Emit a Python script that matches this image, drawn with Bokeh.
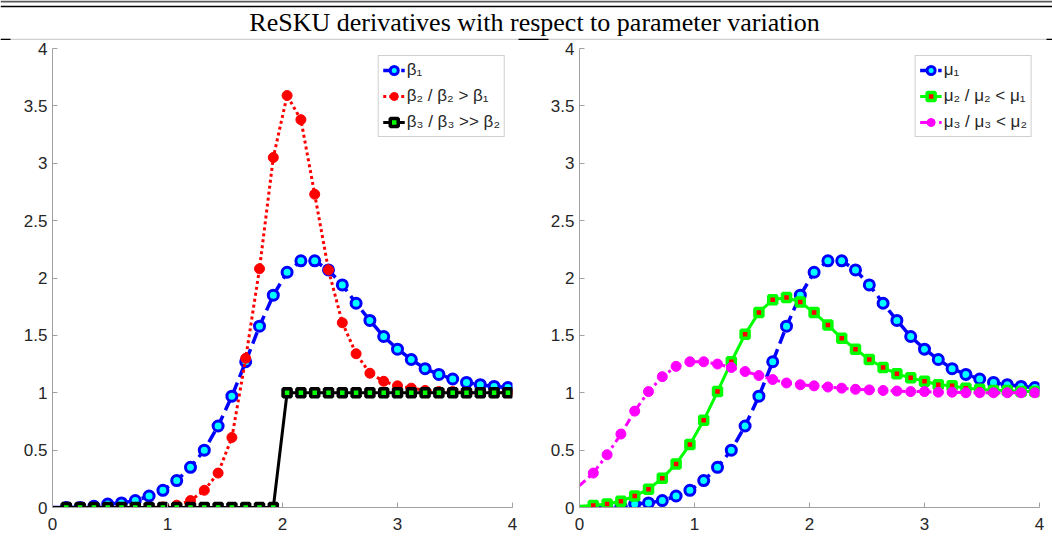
from bokeh.plotting import figure
from bokeh.models import (Range1d, Legend, LegendItem, ColumnDataSource, CDSView,
                          IndexFilter, FixedTicker, Div)
from bokeh.layouts import column, row
from bokeh.core.properties import value
from bokeh.embed import file_html
from bokeh.resources import INLINE

TITLE = "ReSKU derivatives with respect to parameter variation"

X = [0, 0.12, 0.24, 0.36, 0.48, 0.6, 0.72, 0.84, 0.96, 1.08, 1.2, 1.32, 1.44, 1.56, 1.68,
     1.8, 1.92, 2.04, 2.16, 2.28, 2.4, 2.52, 2.64, 2.76, 2.88, 3.0, 3.12, 3.24, 3.36,
     3.48, 3.6, 3.72, 3.84, 3.96]

BETA1 = [0, 0.0, 0.0, 0.01, 0.03, 0.04, 0.06, 0.10, 0.15, 0.235, 0.35, 0.50, 0.71, 0.97,
         1.27, 1.58, 1.85, 2.05, 2.15, 2.15, 2.07, 1.94, 1.78, 1.63, 1.49, 1.38, 1.29,
         1.21, 1.16, 1.12, 1.09, 1.07, 1.055, 1.045]
BETA2 = [0, 0, 0, 0, 0, 0, 0, 0, 0.005, 0.02, 0.06, 0.15, 0.30, 0.61, 1.30, 2.08, 3.05,
         3.59, 3.38, 2.73, 2.07, 1.61, 1.34, 1.17, 1.10, 1.06, 1.04, 1.02, 1.01, 1.01,
         1.0, 1.0, 1.0, 1.0]
BETA3 = [0, 0, 0, 0, 0, 0, 0, 0, 0, 0, 0, 0, 0, 0, 0, 0, 0,
         1, 1, 1, 1, 1, 1, 1, 1, 1, 1, 1, 1, 1, 1, 1, 1, 1]

MU1 = [0, 0.0, 0.0, 0.01, 0.03, 0.04, 0.06, 0.10, 0.15, 0.235, 0.35, 0.50, 0.71, 0.97,
       1.27, 1.58, 1.85, 2.05, 2.15, 2.15, 2.07, 1.94, 1.78, 1.63, 1.49, 1.38, 1.29,
       1.21, 1.16, 1.12, 1.09, 1.07, 1.055, 1.045]
MU2 = [0.01, 0.017, 0.03, 0.055, 0.10, 0.16, 0.255, 0.38, 0.55, 0.76, 1.01, 1.27, 1.51,
       1.70, 1.81, 1.83, 1.79, 1.70, 1.59, 1.475, 1.38, 1.29, 1.22, 1.165, 1.13, 1.10,
       1.07, 1.06, 1.04, 1.03, 1.02, 1.02, 1.01, 1.01]
MU3 = [0.19, 0.30, 0.46, 0.64, 0.84, 1.01, 1.14, 1.23, 1.27, 1.27, 1.25, 1.22, 1.185,
       1.15, 1.115, 1.085, 1.07, 1.06, 1.05, 1.04, 1.03, 1.025, 1.02, 1.015, 1.01, 1.01,
       1.005, 1.005, 1.0, 1.0, 1.0, 1.0, 1.0, 1.0]

LEFT_LABELS = ["β₁", "β₂ / β₂ > β₁", "β₃ / β₃ >> β₂"]
RIGHT_LABELS = ["μ₁", "μ₂ / μ₂ < μ₁", "μ₃ / μ₃ < μ₂"]

XTICKS = [0, 1, 2, 3, 4]
XTICK_LABELS = ["0", "1", "2", "3", "4"]
YTICKS = [0, 0.5, 1, 1.5, 2, 2.5, 3, 3.5, 4]
YTICK_LABELS = ["0", "0.5", "1", "1.5", "2", "2.5", "3", "3.5", "4"]

AX_COLOR = "#a0a0a0"
TXT_COLOR = "#262626"
FONT = "Liberation Sans"

# styles: (line_color, line_width, line_dash, marker, size, m_line_color, m_line_width, fill)
BLUE = ("#0000ff", 3.5, "12 6", "circle", 10, "#0000ff", 3, "#00ffff")
RED = ("#ff0000", 3, "3 3", "circle", 10, "#ff0000", 1, "#ff0000")
BLACK = ("#000000", 3, "solid", "square", 8, "#000000", 3.5, "#00ff00")
GREEN = ("#00ff00", 3, "solid", "square", 8, "#00ff00", 3.5, "#ff0000")
MAGENTA = ("#ff00ff", 3, "8 4 3 4", "circle", 10, "#ff00ff", 1, "#ff00ff")


def make_panel(series, labels, mb_left, mb_right):
    p = figure(width=526, height=499, x_range=Range1d(0, 4), y_range=Range1d(0, 4),
               output_backend="svg", toolbar_location=None,
               min_border_left=mb_left, min_border_right=mb_right,
               min_border_top=8, min_border_bottom=32)
    p.xgrid.visible = False
    p.ygrid.visible = False
    p.outline_line_color = None
    p.background_fill_color = "white"
    p.border_fill_color = "white"
    for ax, ticks, labs in ((p.xaxis[0], XTICKS, XTICK_LABELS),
                            (p.yaxis[0], YTICKS, YTICK_LABELS)):
        ax.ticker = FixedTicker(ticks=ticks)
        ax.major_label_overrides = {t: l for t, l in zip(ticks, labs)}
        ax.axis_line_color = AX_COLOR
        ax.axis_line_width = 1
        ax.major_tick_line_color = AX_COLOR
        ax.major_tick_in = 5
        ax.major_tick_out = 0
        ax.minor_tick_line_color = None
        ax.major_label_text_font = FONT
        ax.major_label_text_font_size = "17px"
        ax.major_label_text_color = TXT_COLOR
    p.xaxis[0].major_label_standoff = 10
    p.yaxis[0].major_label_standoff = 5

    items = []
    for (ys, st), lab in zip(series, labels):
        src = ColumnDataSource(dict(x=X, y=ys))
        lc, lw, dash, marker, size, mlc, mlw, fill = st
        lr = p.line("x", "y", source=src, line_color=lc, line_width=lw, line_dash=dash)
        view = CDSView(filter=IndexFilter(list(range(1, len(X)))))
        sr = p.scatter("x", "y", source=src, view=view, marker=marker, size=size,
                       line_color=mlc, line_width=mlw, fill_color=fill)
        items.append(LegendItem(label=lab, renderers=[lr, sr]))
    leg = Legend(items=items, location="top_right", margin=7, padding=4, spacing=6,
                 glyph_width=22, glyph_height=20, label_standoff=2, label_height=20,
                 label_text_font=FONT, label_text_font_size="17px",
                 label_text_color=TXT_COLOR, border_line_color=AX_COLOR,
                 border_line_width=1, background_fill_color="white",
                 background_fill_alpha=1.0)
    p.add_layout(leg)
    return p


left = make_panel([(BETA1, BLUE), (BETA2, RED), (BETA3, BLACK)], LEFT_LABELS, 52, 14)
right = make_panel([(MU1, BLUE), (MU2, GREEN), (MU3, MAGENTA)], RIGHT_LABELS, 53, 13)

# header with the title and document rules
h = figure(width=1052, height=40, x_range=Range1d(0, 1052), y_range=Range1d(40, 0),
           output_backend="svg", toolbar_location=None, min_border=0)
h.xaxis.visible = False
h.yaxis.visible = False
h.xgrid.visible = False
h.ygrid.visible = False
h.outline_line_color = None
h.segment(x0=[0], y0=[1], x1=[1052], y1=[1], line_color="#5a5a5a", line_width=2)
h.segment(x0=[0], y0=[6], x1=[1052], y1=[6], line_color="#000000", line_width=1.5)
h.segment(x0=[0], y0=[39], x1=[1052], y1=[39], line_color="#d0d0d0", line_width=1.5)
h.segment(x0=[0, 518, 1046], y0=[39, 39, 39], x1=[10, 548, 1052], y1=[39, 39, 39],
          line_color="#000000", line_width=1.5)
h.text(x=[534], y=[22], text=[TITLE], text_align="center", text_baseline="middle",
       text_font=value("Liberation Serif"), text_font_size="26px", text_color="#000000")

footer = Div(width=1052, height=2, styles={"background-color": "#d0d0d0"})

layout = column(h, row(left, right), footer)
open("out.html", "w").write(file_html(layout, INLINE))
